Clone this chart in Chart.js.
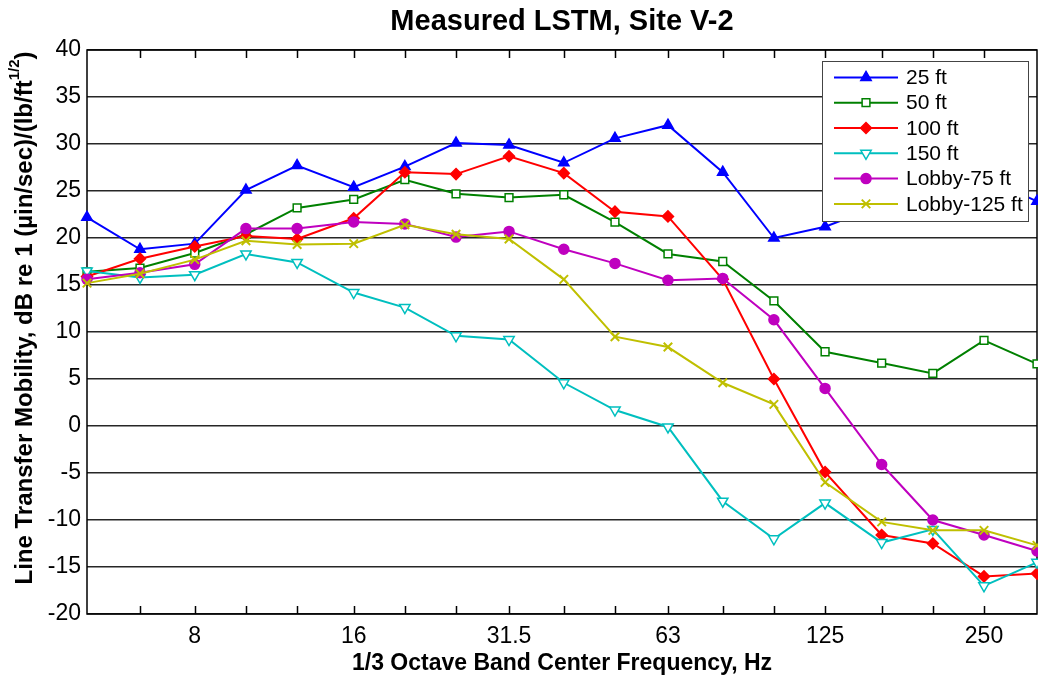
<!DOCTYPE html>
<html lang="en">
<head>
<meta charset="UTF-8">
<title>Measured LSTM, Site V-2</title>
<script src="https://cdn.jsdelivr.net/npm/chart.js@4.4.1/dist/chart.umd.min.js"></script>
<style>
  html, body { margin: 0; padding: 0; background: #fff; }
  canvas { display: block; }
</style>
</head>
<body>
<canvas id="grafico" width="1038" height="679"></canvas>
<script>
// Bandas de 1/3 de octava (Hz) y las que llevan etiqueta
const bandas = [5, 6.3, 8, 10, 12.5, 16, 20, 25, 31.5, 40, 50, 63, 80, 100, 125, 160, 200, 250, 315];
const etiquetasX = [8, 16, 31.5, 63, 125, 250];
const nombres = ["25 ft", "50 ft", "100 ft", "150 ft", "Lobby-75 ft", "Lobby-125 ft"];

const pies25 = [22.2, 18.8, 19.4, 25.1, 27.7, 25.4, 27.6, 30.1, 29.9, 28.0, 30.6, 32.0, 27.0, 20.0, 21.2, 23.5, 25.0, 26.5, 23.9];
const pies50 = [16.4, 16.8, 18.4, 20.4, 23.2, 24.1, 26.2, 24.7, 24.3, 24.6, 21.7, 18.3, 17.5, 13.3, 7.9, 6.7, 5.6, 9.1, 6.6];
const pies100 = [15.9, 17.8, 19.1, 20.2, 19.9, 22.1, 27.0, 26.8, 28.7, 26.9, 22.8, 22.3, 15.6, 5.0, -4.9, -11.6, -12.5, -16.0, -15.7];
const pies150 = [16.5, 15.8, 16.1, 18.3, 17.4, 14.2, 12.6, 9.6, 9.2, 4.6, 1.7, -0.1, -8.0, -12.0, -8.2, -12.4, -11.0, -17.0, -14.5];
const lobby75 = [15.6, 16.3, 17.2, 21.0, 21.0, 21.7, 21.5, 20.1, 20.7, 18.8, 17.3, 15.5, 15.7, 11.3, 4.0, -4.1, -10.0, -11.6, -13.3];
const lobby125 = [15.2, 16.2, 17.7, 19.7, 19.3, 19.4, 21.4, 20.4, 19.9, 15.6, 9.5, 8.4, 4.6, 2.3, -6.0, -10.2, -11.1, -11.1, -12.7];

const valores = [pies25, pies50, pies100, pies150, lobby75, lobby125];

// Estilo de cada serie (color, marcador)
const estilos = [
  { color: "#0000ff", marca: "triangle", giro: 0, relleno: true, radio: 6 },
  { color: "#008000", marca: "rect", giro: 0, relleno: false, radio: 5.5 },
  { color: "#ff0000", marca: "rectRot", giro: 0, relleno: true, radio: 5.5 },
  { color: "#00bfbf", marca: "triangle", giro: 180, relleno: false, radio: 6 },
  { color: "#bf00bf", marca: "circle", giro: 0, relleno: true, radio: 5 },
  { color: "#bfbf00", marca: "crossRot", giro: 0, relleno: false, radio: 6 }
];

const fuente = "'Liberation Sans', Arial, sans-serif";
Chart.defaults.font.family = fuente;
Chart.defaults.color = "#000";

const datasets = valores.map((serie, i) => {
  const e = estilos[i];
  return {
    label: nombres[i],
    data: bandas.map((f, j) => ({ x: f, y: serie[j] })),
    borderColor: e.color,
    borderWidth: 2,
    pointStyle: e.marca,
    pointRotation: e.giro,
    pointRadius: e.radio,
    pointBorderWidth: e.marca === "crossRot" ? 2 : 1.5,
    pointBackgroundColor: e.relleno ? e.color : "#ffffff",
    pointBorderColor: e.color,
    clip: false,
    order: valores.length - i
  };
});

// Marco del area y marcas hacia dentro (estilo MATLAB)
const pluginMarco = {
  id: "marco",
  beforeDatasetsDraw(chart) {
    const { ctx, chartArea: a, scales } = chart;
    ctx.save();
    ctx.strokeStyle = "#000";
    ctx.lineWidth = 1.5;
    ctx.strokeRect(a.left, a.top, a.right - a.left, a.bottom - a.top);
    ctx.beginPath();
    bandas.forEach(f => {
      const x = Math.round(scales.x.getPixelForValue(f)) + 0.5;
      if (x <= a.left + 2 || x >= a.right - 2) return;
      ctx.moveTo(x, a.bottom);
      ctx.lineTo(x, a.bottom - 8);
      ctx.moveTo(x, a.top);
      ctx.lineTo(x, a.top + 8);
    });
    ctx.stroke();
    ctx.restore();
  }
};

// Titulo del eje Y con superindice
const pluginTituloY = {
  id: "tituloY",
  afterDraw(chart) {
    const { ctx } = chart;
    const principal = "Line Transfer Mobility, dB re 1 (\u00b5in/sec)/(lb/ft";
    const sup = "1/2";
    const cierre = ")";
    ctx.save();
    ctx.translate(25, 318);
    ctx.rotate(-Math.PI / 2);
    ctx.fillStyle = "#000";
    ctx.textBaseline = "middle";
    ctx.textAlign = "left";
    ctx.font = "bold 24px " + fuente;
    const w1 = ctx.measureText(principal).width;
    const w3 = ctx.measureText(cierre).width;
    ctx.font = "bold 15px " + fuente;
    const w2 = ctx.measureText(sup).width;
    let x = -(w1 + w2 + w3) / 2;
    ctx.font = "bold 24px " + fuente;
    ctx.fillText(principal, x, 0);
    x += w1;
    ctx.font = "bold 15px " + fuente;
    ctx.fillText(sup, x, -10);
    x += w2;
    ctx.font = "bold 24px " + fuente;
    ctx.fillText(cierre, x, 0);
    ctx.restore();
  }
};

// Leyenda dentro del area, con caja
const pluginLeyenda = {
  id: "leyendaCaja",
  afterDraw(chart) {
    const { ctx } = chart;
    const caja = { x: 822, y: 61, w: 206, h: 160 };
    ctx.save();
    ctx.fillStyle = "#fff";
    ctx.fillRect(caja.x, caja.y, caja.w, caja.h);
    ctx.strokeStyle = "#444";
    ctx.lineWidth = 1;
    ctx.strokeRect(caja.x + 0.5, caja.y + 0.5, caja.w, caja.h);
    chart.data.datasets.forEach((ds, i) => {
      const e = estilos[i];
      const y = 77.4 + 25.3 * i;
      ctx.strokeStyle = e.color;
      ctx.lineWidth = 2;
      ctx.beginPath();
      ctx.moveTo(834, y);
      ctx.lineTo(898, y);
      ctx.stroke();
      ctx.fillStyle = e.relleno ? e.color : "#ffffff";
      ctx.lineWidth = e.marca === "crossRot" ? 2 : 1.5;
      Chart.helpers.drawPoint(ctx, {
        pointStyle: e.marca, rotation: e.giro, radius: e.radio,
        borderWidth: ctx.lineWidth
      }, 866, y);
      ctx.fillStyle = "#000";
      ctx.font = "21px " + fuente;
      ctx.textBaseline = "middle";
      ctx.textAlign = "left";
      ctx.fillText(ds.label, 906, y + 1);
    });
    ctx.restore();
  }
};

new Chart(document.getElementById("grafico"), {
  type: "line",
  data: { datasets },
  options: {
    responsive: false,
    animation: false,
    layout: { padding: { right: 1 }, autoPadding: false },
    plugins: {
      legend: { display: false },
      tooltip: { enabled: false },
      title: {
        display: true,
        fullSize: false,
        text: "Measured LSTM, Site V-2",
        font: { size: 29, weight: "bold" },
        color: "#000",
        padding: { top: 5, bottom: 10.2 }
      }
    },
    scales: {
      x: {
        type: "logarithmic",
        min: 5,
        max: 315,
        afterBuildTicks: eje => { eje.ticks = bandas.map(v => ({ value: v })); },
        afterFit: eje => {
          eje.height = 65;
          eje.paddingLeft = 0;
          eje.paddingRight = 0;
        },
        grid: { display: false },
        border: { display: false },
        ticks: {
          autoSkip: false,
          maxRotation: 0,
          minRotation: 0,
          padding: 1,
          font: { size: 23 },
          callback: v => etiquetasX.includes(v) ? String(v) : ""
        },
        title: {
          display: true,
          text: "1/3 Octave Band Center Frequency, Hz",
          font: { size: 23, weight: "bold" },
          padding: { top: 0, bottom: 2 }
        }
      },
      y: {
        min: -20,
        max: 40,
        afterFit: eje => {
          eje.width = 87;
          eje.paddingTop = 0;
          eje.paddingBottom = 0;
        },
        grid: { color: "#262626", lineWidth: 1.5, drawTicks: false },
        border: { display: false },
        ticks: { stepSize: 5, padding: 6, font: { size: 23 } }
      }
    }
  },
  plugins: [pluginMarco, pluginTituloY, pluginLeyenda]
});
</script>
</body>
</html>
